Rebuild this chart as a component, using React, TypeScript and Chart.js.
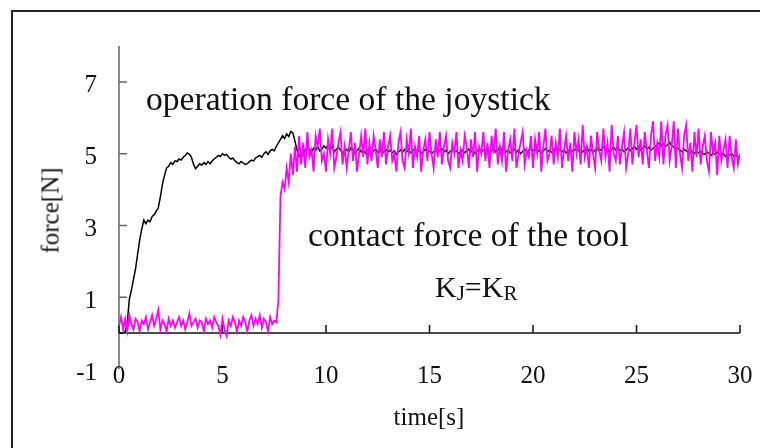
import React, { useEffect, useRef } from "react";
import { Chart, registerables } from "chart.js";

Chart.register(...registerables);

// sampling interval of both recorded series (seconds)
const TIME_STEP = 0.1;

const xTicks = [0, 5, 10, 15, 20, 25, 30];
const yTicks = [-1, 1, 3, 5, 7];
const X_MIN = 0;
const X_MAX = 30;
const Y_MIN = -1;
const Y_MAX = 8;

// operation force of the joystick [N], t = 0.0 ... 30.0 s
const joystickForce = [
  0, 0, 0, 0.05, 0.3, 0.95, 1.2, 1.5, 1.8, 2.2,
  2.6, 2.9, 3.15, 3.05, 3.15, 3.1, 3.25, 3.3, 3.4, 3.5,
  3.8, 4.15, 4.4, 4.6, 4.65, 4.75, 4.7, 4.8, 4.78, 4.85,
  4.82, 4.9, 4.95, 5.02, 4.98, 4.9, 4.7, 4.58, 4.65, 4.72,
  4.68, 4.75, 4.7, 4.78, 4.72, 4.8, 4.85, 4.9, 4.95, 4.92,
  5.0, 4.95, 4.98, 4.9, 4.85, 4.88, 4.8, 4.75, 4.72, 4.78,
  4.74, 4.7, 4.72, 4.78, 4.82, 4.8, 4.88, 4.92, 4.95, 4.9,
  5.0, 5.05, 4.98, 5.08, 5.12, 5.08, 5.2, 5.3, 5.4, 5.5,
  5.42, 5.55, 5.48, 5.62, 5.58, 5.35, 5.1, 4.92, 5.0, 4.95,
  5.1, 5.18, 5.12, 5.05, 5.15, 5.1, 5.2, 5.08, 5.12, 5.22,
  5.15, 5.25, 5.1, 5.2, 5.05, 5.12, 5.18, 5.1, 5.02, 5.08,
  5.12, 5.05, 5.15, 5.1, 5.0, 5.08, 5.15, 5.05, 5.1, 5.02,
  5.1, 5.05, 4.98, 5.08, 5.12, 5.04, 5.1, 5.0, 5.06, 5.12,
  5.05, 5.1, 5.02, 5.08, 4.98, 5.05, 5.1, 5.04, 5.12, 5.06,
  5.1, 5.02, 5.08, 5.15, 5.05, 5.1, 5.0, 5.06, 5.12, 5.04,
  5.08, 5.0, 5.06, 5.1, 5.02, 5.08, 5.14, 5.05, 5.1, 5.0,
  5.06, 5.12, 5.04, 5.08, 5.0, 5.05, 5.1, 5.02, 5.08, 5.12,
  5.05, 5.1, 5.0, 5.08, 5.14, 5.04, 5.1, 5.06, 5.12, 5.02,
  5.08, 5.15, 5.05, 5.1, 5.2, 5.08, 5.12, 5.05, 5.1, 5.02,
  5.08, 5.12, 5.04, 5.1, 5.0, 5.06, 5.12, 5.05, 5.1, 5.15,
  5.08, 5.12, 5.05, 5.1, 5.02, 5.08, 5.14, 5.06, 5.1, 5.04,
  5.1, 5.16, 5.08, 5.12, 5.05, 5.1, 5.02, 5.08, 5.12, 5.06,
  5.1, 5.15, 5.08, 5.12, 5.05, 5.1, 5.18, 5.08, 5.12, 5.05,
  5.1, 5.15, 5.08, 5.12, 5.2, 5.1, 5.14, 5.06, 5.12, 5.18,
  5.1, 5.15, 5.08, 5.12, 5.05, 5.1, 5.16, 5.08, 5.14, 5.2,
  5.12, 5.18, 5.1, 5.15, 5.22, 5.12, 5.18, 5.1, 5.15, 5.2,
  5.25, 5.3, 5.22, 5.28, 5.2, 5.25, 5.32, 5.22, 5.18, 5.12,
  5.15, 5.1, 5.05, 5.12, 5.08, 5.02, 5.1, 5.05, 5.0, 5.08,
  5.02, 5.06, 5.0, 4.98, 5.05, 5.0, 4.95, 5.02, 4.98, 5.05,
  4.98, 4.95, 5.0, 4.92, 4.98, 4.95, 5.0, 4.92, 4.96, 4.9,
  4.92,
];

// contact force of the tool [N], t = 0.0 ... 30.0 s
const toolForce = [
  0.2, 0.45, 0.1, 0.4, 0.05, 0.5, 0.25, 0.1, 0.4, 0.3,
  0.05, 0.35, 0.25, 0.45, 0.1, 0.3, 0.5, 0.2, 0.4, 0.65,
  0.1, 0.35, 0.25, 0.05, 0.4, 0.2, 0.35, 0.15, 0.3, 0.45,
  0.2, 0.35, 0.1, 0.3, 0.55, 0.2, 0.3, 0.4, 0.15, 0.35,
  0.3, 0.05, 0.4, 0.25, 0.35, 0.15, 0.45, 0.3, 0.2, -0.05,
  0.4, 0.1, -0.08, 0.35, 0.2, 0.45, 0.3, 0.05, 0.35, 0.2,
  0.45, 0.3, 0.05, 0.35, 0.5, 0.2, 0.4, 0.25, 0.5, 0.15,
  0.4, 0.3, 0.05, 0.45, 0.25, 0.35, 0.3, 0.9, 3.8, 4.2,
  4.0, 4.6, 4.2, 5.0, 4.4, 5.2, 4.5, 5.5, 4.7, 5.3,
  4.6, 5.6, 4.9, 5.1, 4.5, 5.5, 5.2, 5.7, 4.8, 5.0,
  4.5, 5.4, 5.0, 5.7, 4.6, 4.9, 5.3, 5.6, 4.7, 5.2,
  4.6, 5.1, 5.6, 4.8, 5.3, 4.5, 5.0, 5.5, 4.9, 5.7,
  4.7, 5.3, 4.8, 5.5, 5.1, 4.6, 5.4, 4.9, 5.6, 4.7,
  5.2, 5.5, 4.8, 5.0, 4.5, 5.3, 5.6, 4.8, 4.6, 5.4,
  5.0, 5.7, 4.6, 5.2, 4.9, 5.5, 4.5, 5.1, 5.4, 4.8,
  5.6, 5.0, 4.6, 5.4, 4.9, 5.6, 4.7, 5.2, 5.5, 4.8,
  4.6, 5.3, 5.0, 5.6, 4.6, 5.1, 4.8, 5.5, 5.2, 4.6,
  5.4, 4.9, 5.6, 4.5, 5.2, 5.0, 5.6, 4.8, 5.3, 4.6,
  5.5, 5.0, 5.7, 4.7, 5.2, 4.8, 5.6, 4.5, 5.1, 5.4,
  4.8, 5.7, 4.6, 5.0, 5.3, 5.6, 4.7, 5.1, 4.9, 5.5,
  4.6, 5.4, 5.0, 5.6, 4.5, 5.2, 5.7, 4.8, 5.0, 5.5,
  4.7, 5.3, 4.9, 5.7, 4.6, 5.1, 5.5, 4.8, 5.3, 4.5,
  5.6, 5.0, 5.4, 4.7, 5.8, 4.9, 5.2, 4.6, 5.5, 5.0,
  4.6, 5.6, 5.1, 4.8, 5.7, 4.9, 5.3, 4.5, 5.8, 5.0,
  4.8, 5.5, 4.7, 5.2, 5.6, 4.6, 5.0, 5.7, 4.7, 5.3,
  5.8, 4.9, 5.4, 4.7, 5.6, 5.1, 4.6, 5.5, 5.9, 4.8,
  5.3, 4.9, 5.9, 4.7, 5.5, 5.8, 4.8, 5.2, 5.9, 4.6,
  5.7, 5.0, 4.6, 5.5, 5.8, 4.8, 5.3, 4.5, 5.6, 4.9,
  5.7, 4.7, 5.2, 5.5, 4.8, 4.5, 5.6, 5.0, 5.3, 4.4,
  5.5, 4.8, 5.1, 5.4, 4.6, 5.5, 4.9, 4.6, 5.4, 4.7,
  5.0,
];

const SERIF = "'Liberation Serif', 'Times New Roman', serif";

const toPoints = (vals: number[]) =>
  vals.map((v, i) => ({ x: Math.round(i * TIME_STEP * 10) / 10, y: v }));

const axesPlugin = {
  id: "crossAxes",
  beforeDatasetsDraw(chart: any) {
    const { ctx, scales } = chart;
    const xs = scales.x;
    const ys = scales.y;
    const x0 = xs.getPixelForValue(X_MIN);
    const y0 = ys.getPixelForValue(0);
    ctx.save();
    // y axis
    ctx.strokeStyle = "#666";
    ctx.lineWidth = 1.5;
    ctx.beginPath();
    ctx.moveTo(x0, ys.getPixelForValue(Y_MAX));
    ctx.lineTo(x0, ys.getPixelForValue(Y_MIN));
    yTicks
      .filter((v) => v > Y_MIN)
      .forEach((v) => {
        const py = ys.getPixelForValue(v);
        ctx.moveTo(x0, py);
        ctx.lineTo(x0 + 8, py);
      });
    ctx.stroke();
    // x axis at y = 0
    ctx.strokeStyle = "#111";
    ctx.beginPath();
    ctx.moveTo(x0, y0);
    ctx.lineTo(xs.getPixelForValue(X_MAX), y0);
    xTicks.forEach((v) => {
      const px = xs.getPixelForValue(v);
      ctx.moveTo(px, y0);
      ctx.lineTo(px, y0 - 8);
    });
    ctx.stroke();
    ctx.restore();
  },
  afterDraw(chart: any) {
    // x tick labels sit level with the lowest y label, below the plot
    const { ctx, scales } = chart;
    const xs = scales.x;
    const ys = scales.y;
    const baseY = ys.getPixelForValue(Y_MIN) + 14;
    ctx.save();
    ctx.fillStyle = "#111";
    ctx.font = `25px ${SERIF}`;
    ctx.textAlign = "center";
    ctx.textBaseline = "alphabetic";
    xTicks.forEach((v) => {
      ctx.fillText(String(v), xs.getPixelForValue(v), baseY);
    });
    ctx.restore();
  },
};

export default function App() {
  const canvasRef = useRef<HTMLCanvasElement | null>(null);

  useEffect(() => {
    const canvas = canvasRef.current;
    if (!canvas) return;
    const chart = new Chart(canvas, {
      type: "line",
      data: {
        datasets: [
          {
            label: "contact force of the tool",
            data: toPoints(toolForce),
            borderColor: "#ff00ff",
            borderWidth: 1.8,
            pointRadius: 0,
            tension: 0,
            fill: false,
          },
          {
            label: "operation force of the joystick",
            data: toPoints(joystickForce),
            borderColor: "#000000",
            borderWidth: 1.5,
            pointRadius: 0,
            tension: 0,
            fill: false,
          },
        ],
      },
      options: {
        animation: false,
        responsive: false,
        devicePixelRatio: 1,
        layout: { padding: { left: 0, top: 46, right: 20, bottom: 0 } },
        plugins: {
          legend: { display: false },
          tooltip: { enabled: false },
        },
        scales: {
          x: {
            type: "linear",
            position: "bottom",
            min: X_MIN,
            max: X_MAX,
            afterBuildTicks: (s: any) => {
              s.ticks = xTicks.map((v) => ({ value: v }));
            },
            afterFit: (s: any) => {
              s.height = 79;
            },
            grid: { display: false, drawTicks: false },
            border: { display: false },
            ticks: {
              display: false,
              font: { family: SERIF, size: 25 },
            },
          },
          y: {
            type: "linear",
            position: "left",
            min: Y_MIN,
            max: Y_MAX,
            afterBuildTicks: (s: any) => {
              s.ticks = yTicks.map((v) => ({ value: v }));
            },
            afterFit: (s: any) => {
              s.width = 119;
            },
            grid: { display: false, drawTicks: false },
            border: { display: false },
            ticks: {
              color: "#111",
              padding: 22,
              labelOffset: 4,
              font: { family: SERIF, size: 25 },
            },
          },
        },
      },
      plugins: [axesPlugin],
    });
    return () => chart.destroy();
  }, []);

  const textBase: React.CSSProperties = {
    position: "absolute",
    fontFamily: SERIF,
    color: "#111",
    lineHeight: 1,
    whiteSpace: "nowrap",
  };

  return (
    <div
      style={{
        position: "fixed",
        left: 0,
        top: 0,
        width: 760,
        height: 448,
        background: "#fff",
        overflow: "hidden",
      }}
    >
      <div
        style={{
          position: "absolute",
          left: 11,
          top: 10,
          width: 800,
          height: 500,
          borderLeft: "2px solid #222",
          borderTop: "2px solid #222",
        }}
      />
      <canvas
        ref={canvasRef}
        width={760}
        height={448}
        style={{ position: "absolute", left: 0, top: 0, width: 760, height: 448 }}
      />
      <div style={{ ...textBase, left: 146, top: 82, fontSize: 33.6 }}>
        operation force of the joystick
      </div>
      <div style={{ ...textBase, left: 308, top: 218, fontSize: 33.6 }}>
        contact force of the tool
      </div>
      <div style={{ ...textBase, left: 435, top: 272, fontSize: 30 }}>
        K<span style={{ fontSize: 21, position: "relative", top: 3 }}>J</span>=K
        <span style={{ fontSize: 21, position: "relative", top: 3 }}>R</span>
      </div>
      <div
        style={{
          ...textBase,
          left: 329,
          width: 200,
          textAlign: "center",
          top: 404,
          fontSize: 25,
        }}
      >
        time[s]
      </div>
      <div
        style={{
          ...textBase,
          left: 50 - 60,
          top: 210 - 12.5,
          width: 120,
          textAlign: "center",
          fontSize: 25,
          transform: "rotate(-90deg)",
          transformOrigin: "60px 12.5px",
        }}
      >
        force[N]
      </div>
    </div>
  );
}
